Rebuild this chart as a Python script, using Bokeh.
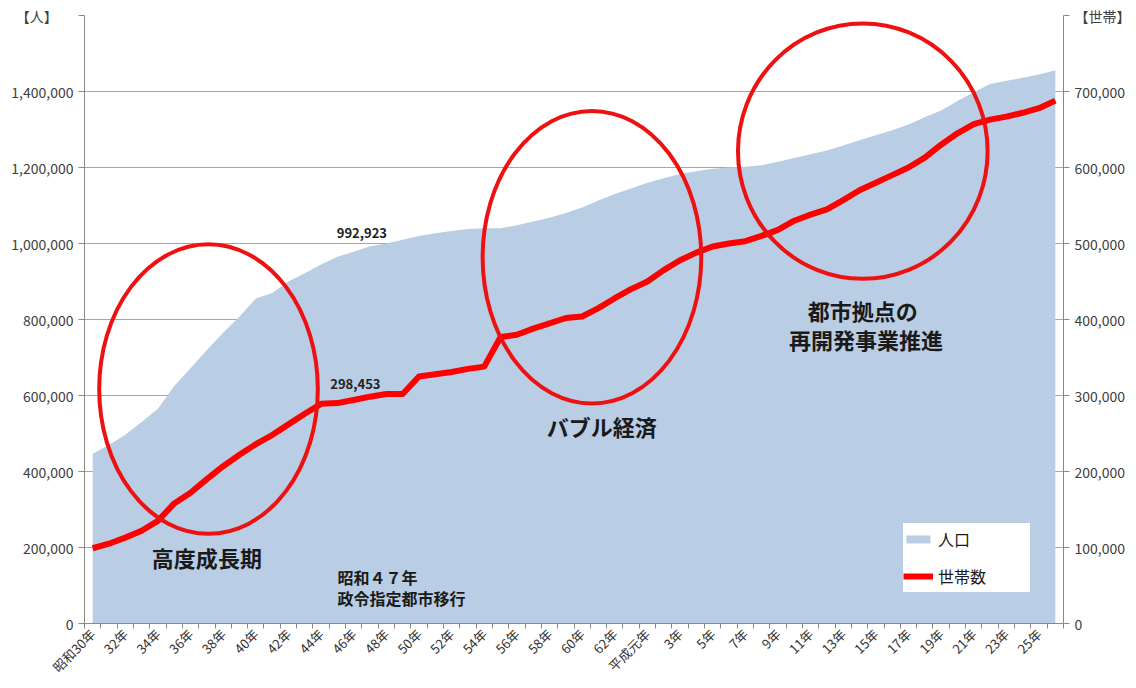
import math
from bokeh.plotting import figure
from bokeh.models import (Range1d, LinearAxis, FixedTicker, NumeralTickFormatter,
                          Legend, LegendItem, ColumnDataSource)
from bokeh.core.properties import value
from bokeh.embed import file_html
from bokeh.resources import INLINE

FONT = "Noto Sans CJK JP"

# ---- data -------------------------------------------------------------
years = list(range(1955, 2015))  # 昭和30年 .. 平成26年

population = [
    447000, 470000, 497000, 530000, 565000, 625000, 672000, 720000, 765000, 808000,
    855000, 870000, 900000, 922000, 945000, 965000, 978000, 992923, 1000000, 1010000,
    1020000, 1027000, 1033000, 1038000, 1040000, 1040000, 1048000, 1058000, 1068000, 1080000,
    1095000, 1113000, 1130000, 1145000, 1160000, 1172000, 1183000, 1190000, 1197000, 1200000,
    1202000, 1206000, 1215000, 1225000, 1235000, 1245000, 1258000, 1272000, 1285000, 1298000,
    1313000, 1332000, 1350000, 1375000, 1398000, 1420000, 1428000, 1436000, 1445000, 1456000,
]

households = [
    99000, 105000, 113000, 122000, 135000, 158000, 172000, 190000, 207000, 222000,
    236000, 248000, 262000, 276000, 289000, 290000, 294000, 298453, 302000, 302000,
    325000, 328000, 331000, 335000, 338000, 377000, 380000, 388000, 395000, 402000,
    404000, 415000, 428000, 440000, 450000, 465000, 478000, 488000, 496000, 500000,
    503000, 510000, 518000, 530000, 538000, 545000, 557000, 570000, 580000, 590000,
    600000, 613000, 630000, 645000, 657000, 663000, 667000, 672000, 678000, 688000,
]

tick_labels = ["昭和30年", "32年", "34年", "36年", "38年", "40年", "42年", "44年", "46年",
               "48年", "50年", "52年", "54年", "56年", "58年", "60年", "62年", "平成元年",
               "3年", "5年", "7年", "9年", "11年", "13年", "15年", "17年", "19年", "21年",
               "23年", "25年"]

series_names = ["人口", "世帯数"]
unit_left = "【人】"
unit_right = "【世帯】"

# annotations (positions in category index / left-axis units)
ellipse_x = [7.1, 30.6, 47.2]
ellipse_y = [617000, 964000, 1243000]
ellipse_w = [13.4, 13.4, 15.3]
ellipse_h = [762000, 770000, 672000]

note_text = ["高度成長期", "バブル経済", "都市拠点の", "再開発事業推進"]
note_x = [7.0, 31.2, 47.2, 47.4]
note_y = [176000, 520000, 825000, 749000]

event_text = ["昭和４７年", "政令指定都市移行"]
event_x = [15.0, 15.0]
event_y = [123000, 66000]

value_text = ["992,923", "298,453"]
value_x = [16.5, 16.1]
value_y = [1027000, 630000]

# ---- figure -----------------------------------------------------------
xs = list(range(len(years)))
src = ColumnDataSource(dict(x=xs, pop=population, hh=households))

p = figure(width=1136, height=688, output_backend="svg", toolbar_location=None,
           x_range=Range1d(-0.5, len(years) - 0.5), y_range=Range1d(0, 1600000),
           min_border_left=84, min_border_right=73, min_border_top=15, min_border_bottom=65)
p.extra_y_ranges = {"hh": Range1d(0, 800000)}
p.outline_line_color = None
p.background_fill_color = "white"
p.border_fill_color = "white"

area = p.varea(x="x", y1=0, y2="pop", source=src, fill_color="#B9CDE5")
line = p.line(x="x", y="hh", source=src, y_range_name="hh",
              line_color="#FF0000", line_width=6, line_join="round")

p.ellipse(x=ellipse_x, y=ellipse_y, width=ellipse_w, height=ellipse_h,
          fill_alpha=0, line_color="#EE1111", line_width=4)

p.text(x=note_x, y=note_y, text=note_text, text_font=value(FONT),
       text_font_size="22px", text_font_style="bold", text_color="#1a1a1a",
       text_align="center", text_baseline="middle")
p.text(x=event_x, y=event_y, text=event_text, text_font=value(FONT),
       text_font_size="16px", text_font_style="bold", text_color="#1a1a1a",
       text_align="left", text_baseline="middle")
p.text(x=value_x, y=value_y, text=value_text, text_font=value(FONT),
       text_font_size="13px", text_font_style="bold", text_color="#222222",
       text_align="center", text_baseline="middle")

# axes
tick_pos = list(range(0, len(years), 2))[:len(tick_labels)]
xa = p.xaxis[0]
xa.ticker = FixedTicker(ticks=tick_pos,
                        minor_ticks=[i - 0.5 for i in range(len(years) + 1)])
xa.major_label_overrides = {t: lab for t, lab in zip(tick_pos, tick_labels)}
xa.major_label_orientation = math.pi / 4
xa.major_label_text_font = FONT
xa.major_label_text_font_size = "13px"
xa.major_label_text_color = "#333333"
xa.major_tick_out = 0
xa.major_tick_in = 0
xa.minor_tick_out = 5
xa.minor_tick_in = 0
xa.minor_tick_line_color = "#888888"
xa.axis_line_color = "#888888"
xa.major_label_standoff = 3

NB = "\u00a0"
ya = p.yaxis[0]
ya.ticker = FixedTicker(ticks=list(range(0, 1600001, 200000)))
ya.formatter = NumeralTickFormatter(format="0,0")
ya.major_label_text_font = FONT
ya.major_label_text_font_size = "14px"
ya.major_label_text_color = "#404040"
ya.axis_line_color = "#888888"
ya.major_tick_line_color = "#888888"
ya.major_tick_out = 6
ya.major_tick_in = 0
ya.minor_tick_line_color = None
ya.major_label_overrides = {1600000: unit_left + NB * 5}

ra = LinearAxis(y_range_name="hh")
ra.ticker = FixedTicker(ticks=list(range(0, 800001, 100000)))
ra.formatter = NumeralTickFormatter(format="0,0")
ra.major_label_text_font = FONT
ra.major_label_text_font_size = "14px"
ra.major_label_text_color = "#404040"
ra.axis_line_color = "#888888"
ra.major_tick_line_color = "#888888"
ra.major_tick_out = 6
ra.major_tick_in = 0
ra.minor_tick_line_color = None
ra.major_label_overrides = {800000: unit_right}
p.add_layout(ra, "right")

p.xgrid.grid_line_color = None
p.ygrid.ticker = FixedTicker(ticks=list(range(200000, 1600001, 200000)))
p.ygrid.grid_line_color = "#A6A6A6"
p.ygrid.grid_line_width = 1

legend = Legend(items=[LegendItem(label=series_names[0], renderers=[area]),
                       LegendItem(label=series_names[1], renderers=[line])],
                location=(819, 31), orientation="vertical")
legend.label_text_font = FONT
legend.label_text_font_size = "16px"
legend.label_text_color = "#1a1a1a"
legend.glyph_width = 30
legend.glyph_height = 10
legend.label_height = 32
legend.spacing = 5
legend.padding = 14
legend.margin = 0
legend.label_standoff = 5
legend.label_width = 92
legend.border_line_color = None
legend.background_fill_color = "white"
legend.background_fill_alpha = 1
p.add_layout(legend, "center")

open("out.html", "w").write(file_html(p, INLINE))
